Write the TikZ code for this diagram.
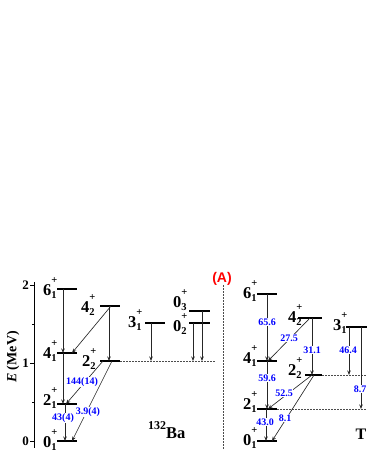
\documentclass[tikz,border=0pt]{standalone}
\usepackage{fontspec}
\setmainfont{Liberation Serif}
\newfontfamily\sansbf{Liberation Sans}
\usepackage{tikz}
\usetikzlibrary{positioning,arrows.meta}
% level label: J with + on top and index below
\newcommand{\lv}[2]{#1\rlap{\raisebox{11.5pt}{\fontsize{10.5}{10.5}\selectfont +}}\raisebox{-3.5pt}{\fontsize{10.5}{10.5}\selectfont #2}}

\begin{document}
\begin{tikzpicture}[x=1pt,y=-1pt,
  lev/.style={fill=black, inner sep=0pt, minimum height=1.8pt},
  lbl/.style={anchor=base west, inner sep=0pt, font=\fontsize{16.5}{16.5}\selectfont\bfseries},
  tr/.style={-{Stealth[length=4.5pt,width=3.5pt]}, line width=0.65pt, black!85},
  val/.style={text=blue, fill=white, inner sep=0.5pt, font=\fontsize{10}{10}\selectfont\bfseries},
  dsh/.style={dash pattern=on 1.5pt off 1.5pt, line width=0.5pt, black!70}]
\useasboundingbox (0,0) rectangle (367,475);

% energy axis
\draw[line width=0.6pt] (34,282) -- (34,448);
\foreach \e in {0,1,2} {
  \draw[line width=0.6pt] (34,{441-78*\e}) -- ++(-4,0);
  \node[anchor=east, inner sep=0pt, font=\fontsize{13}{13}\selectfont\bfseries] (tick\e) at (29,{441-78*\e}) {\e};
}
\foreach \e in {0.5,1.5} \draw[line width=0.6pt] (34,{441-78*\e}) -- ++(-2.5,0);
\node[rotate=90, font=\fontsize{14}{14}\selectfont\bfseries] (ylab) at (13,357) {\textit{E} (MeV)};

% separator
\coordinate (septop) at (223,285);
\coordinate (sepbot) at (223,450);
\draw[dsh] (septop) -- (sepbot);
\node[text=red, font=\sansbf\fontsize{14}{14}\selectfont\bfseries] (tag) at (222,279) {(A)};

% 132Ba levels
\node[lev, minimum width=20pt] (b0)  at (67,441) {};
\node[lev, minimum width=20pt] (b2)  at (67,404) {};
\node[lev, minimum width=20pt] (b4)  at (67,353) {};
\node[lev, minimum width=20pt] (b6)  at (67,289) {};
\node[lev, minimum width=20pt] (b42) at (110,306) {};
\node[lev, minimum width=20pt] (b22) at (110,361) {};
\node[lev, minimum width=20pt] (b31) at (155,323) {};
\node[lev, minimum width=21pt] (b03) at (199.5,311) {};
\node[lev, minimum width=21pt] (b02) at (199.5,323) {};
\coordinate (bend) at (215,361);
\draw[dsh] (b22.east) -- (bend);

\node[lbl] (lb6)  at (43,295)  {\lv{6}{1}};
\node[lbl] (lb4)  at (43,358)  {\lv{4}{1}};
\node[lbl] (lb2)  at (43,405)  {\lv{2}{1}};
\node[lbl] (lb0)  at (43,447)  {\lv{0}{1}};
\node[lbl] (lb42) at (81,312)  {\lv{4}{2}};
\node[lbl] (lb22) at (82,366)  {\lv{2}{2}};
\node[lbl] (lb31) at (128,327) {\lv{3}{1}};
\node[lbl] (lb03) at (173,307) {\lv{0}{3}};
\node[lbl] (lb02) at (173,331) {\lv{0}{2}};

\draw[tr] (63,0 |- b6) -- (63,0 |- b4);
\draw[tr] (63,0 |- b4) -- (63,0 |- b2);
\draw[tr] (65,0 |- b2) -- (65,0 |- b0);
\draw[tr] (111,0 |- b42) -- (72,0 |- b4);
\draw[tr] (109,0 |- b42) -- (109,0 |- b22);
\draw[tr] (103,0 |- b22) -- (66,0 |- b2);
\draw[tr] (112,0 |- b22) -- (72,0 |- b0);
\draw[tr] (151,0 |- b31) -- (151,0 |- b22);
\draw[tr] (193,0 |- b02) -- (193,0 |- b22);
\draw[tr] (202,0 |- b03) -- (202,0 |- b22);

\node[val] (bv1) at (82,382) {144(14)};
\node[val] (bv2) at (63,418) {43(4)};
\node[val] (bv3) at (88,412) {3.9(4)};

\node[anchor=base west, inner sep=0pt, font=\fontsize{16.5}{16.5}\selectfont\bfseries] (iso) at (148,438)
  {\raisebox{8.5pt}{\fontsize{12}{12}\selectfont 132}Ba};

% right panel levels
\node[lev, minimum width=20pt] (r0)  at (267,441) {};
\node[lev, minimum width=20pt] (r2)  at (267,409) {};
\node[lev, minimum width=20pt] (r4)  at (267,361) {};
\node[lev, minimum width=20pt] (r6)  at (267,294) {};
\node[lev, minimum width=24pt] (r42) at (310,318) {};
\node[lev, minimum width=17pt] (r22) at (313.5,375) {};
\node[lev, minimum width=21pt] (r31) at (356.5,327) {};
\coordinate (rend22) at (367,375);
\coordinate (rend2)  at (367,409);
\draw[dsh] (r22.east) -- (rend22);
\draw[dsh] (r2.east) -- (rend2);

\node[lbl] (lr6)  at (243,298) {\lv{6}{1}};
\node[lbl] (lr4)  at (243,363) {\lv{4}{1}};
\node[lbl] (lr2)  at (243,409) {\lv{2}{1}};
\node[lbl] (lr0)  at (243,445) {\lv{0}{1}};
\node[lbl] (lr42) at (288,322) {\lv{4}{2}};
\node[lbl] (lr22) at (288,375) {\lv{2}{2}};
\node[lbl] (lr31) at (333,330) {\lv{3}{1}};

\draw[tr] (267,0 |- r6) -- (267,0 |- r4);
\draw[tr] (267,0 |- r4) -- (267,0 |- r2);
\draw[tr] (266,0 |- r2) -- (266,0 |- r0);
\draw[tr] (310,0 |- r42) -- (268,0 |- r4);
\draw[tr] (312,0 |- r42) -- (312,0 |- r22);
\draw[tr] (312,0 |- r22) -- (268,0 |- r2);
\draw[tr] (314,0 |- r22) -- (272,0 |- r0);
\draw[tr] (349,0 |- r31) -- (349,0 |- r22);
\draw[tr] (361,0 |- r31) -- (361,0 |- r2);

\node[val] (rv1) at (267,322) {65.6};
\node[val] (rv2) at (289,338) {27.5};
\node[val] (rv3) at (312,350) {31.1};
\node[val] (rv4) at (348,350) {46.4};
\node[val] (rv5) at (267,378) {59.6};
\node[val] (rv6) at (284,393) {52.5};
\node[val] (rv7) at (360,389) {8.7};
\node[val] (rv8) at (265,422) {43.0};
\node[val] (rv9) at (285,418) {8.1};

\node[anchor=base west, inner sep=0pt, font=\fontsize{16}{16}\selectfont\bfseries] (thy) at (355.5,439) {T};
\end{tikzpicture}
\end{document}
